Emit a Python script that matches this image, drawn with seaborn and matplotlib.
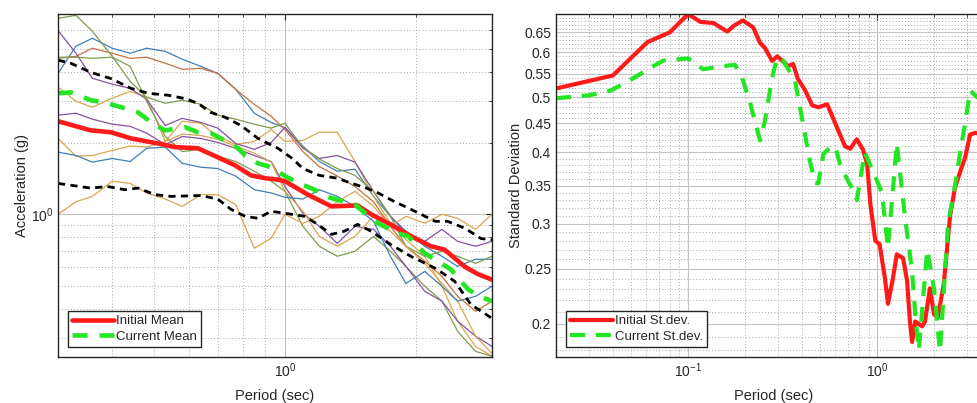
import matplotlib
matplotlib.use("Agg")
import matplotlib.pyplot as plt
import matplotlib.ticker as mticker
from matplotlib.lines import Line2D
import seaborn as sns

# ---------------- data: left panel (response spectra) ----------------
grid_periods = [0.30, 0.33, 0.36, 0.40, 0.44, 0.48, 0.53, 0.58, 0.64, 0.70, 0.77, 0.85, 0.93,
                1.0, 1.1, 1.2, 1.32, 1.45, 1.6, 1.75, 1.9, 2.1, 2.3, 2.5, 2.75, 3.0]

record_1 = [3.93, 5.12, 5.53, 5.02, 4.78, 5.02, 4.87, 4.51, 4.21, 3.93, 3.37, 2.67, 2.44,
            2.32, 1.94, 1.67, 1.52, 1.55, 1.19, 0.981, 0.848, 0.733, 0.665, 0.603, 0.646, 0.646]
record_2 = [4.55, 4.64, 5.02, 4.78, 4.55, 4.60, 4.34, 4.09, 4.13, 3.93, 3.37, 2.91, 2.59,
            2.28, 1.84, 1.59, 1.45, 1.31, 1.13, 0.890, 0.733, 0.634, 0.547, 0.451, 0.390, 0.430]
record_3 = [3.44, 3.00, 2.83, 3.09, 3.30, 3.12, 2.03, 2.47, 2.42, 2.13, 1.97, 2.03, 2.28,
            2.03, 2.05, 2.22, 2.22, 1.67, 1.19, 0.916, 0.784, 0.665, 0.497, 0.354, 0.277, 0.252]
record_4 = [5.97, 4.78, 3.75, 3.54, 3.40, 3.06, 2.37, 2.54, 2.44, 2.31, 1.99, 1.88, 2.01,
            2.33, 1.90, 1.72, 1.77, 1.66, 1.25, 0.981, 0.831, 0.769, 0.864, 0.769, 0.733, 0.769]
record_5 = [6.71, 6.91, 5.92, 4.64, 3.64, 3.12, 2.94, 3.03, 2.91, 2.62, 2.52, 2.40, 2.31,
            2.42, 1.92, 1.71, 1.56, 1.46, 1.25, 0.981, 0.733, 0.665, 0.698, 0.665, 0.621, 0.665]
record_6 = [4.60, 4.60, 4.55, 4.60, 4.21, 3.00, 2.13, 1.84, 1.88, 1.76, 1.67, 1.52, 1.38,
            1.25, 0.890, 0.733, 0.665, 0.698, 0.807, 0.698, 0.603, 0.497, 0.430, 0.321, 0.264, 0.252]
record_7 = [2.62, 2.67, 2.52, 2.40, 2.35, 2.20, 1.97, 2.13, 2.09, 2.01, 1.90, 1.77, 1.67,
            1.31, 1.01, 0.890, 0.754, 0.890, 0.864, 0.733, 0.603, 0.473, 0.430, 0.354, 0.306, 0.277]
record_8 = [2.09, 1.76, 1.77, 1.86, 1.94, 1.92, 2.03, 2.18, 2.15, 2.07, 1.94, 1.81, 1.66,
            1.25, 1.03, 0.807, 0.733, 0.807, 0.981, 0.848, 0.733, 0.621, 0.511, 0.430, 0.306, 0.259]
record_9 = [1.83, 1.77, 1.66, 1.72, 1.67, 1.90, 1.92, 1.64, 1.58, 1.56, 1.45, 1.27, 1.23,
            1.18, 1.16, 1.27, 1.19, 1.08, 0.934, 0.665, 0.511, 0.574, 0.497, 0.430, 0.451, 0.497]
record_10 = [1.00, 1.13, 1.19, 1.38, 1.35, 1.23, 1.16, 1.08, 1.21, 1.21, 1.10, 0.719, 0.792,
             1.00, 0.916, 0.981, 1.13, 1.25, 1.08, 0.890, 0.981, 0.916, 1.00, 0.962, 0.864, 1.00]
records = [record_1, record_2, record_3, record_4, record_5,
           record_6, record_7, record_8, record_9, record_10]
record_colors = ["#3f7fb8", "#c8703f", "#d9a64e", "#8752a0", "#7f9c4c",
                 "#7f9c4c", "#8752a0", "#d9a64e", "#3f7fb8", "#d9a64e"]

upper_periods = [0.30, 0.321, 0.357, 0.397, 0.442, 0.484, 0.538, 0.588, 0.63, 0.675, 0.727, 0.792,
                 0.867, 0.914, 0.963, 1.04, 1.10, 1.20, 1.32, 1.41, 1.54, 1.64, 1.79, 1.95, 2.22,
                 2.37, 2.6, 2.83, 3.0]
upper_values = [4.47, 4.34, 3.97, 3.74, 3.40, 3.24, 3.18, 3.08, 2.94, 2.69, 2.57, 2.37,
                2.09, 1.99, 1.90, 1.72, 1.56, 1.46, 1.42, 1.36, 1.29, 1.23, 1.13, 1.05, 0.934,
                0.934, 0.873, 0.79, 0.78]
lower_periods = [0.30, 0.357, 0.39, 0.428, 0.459, 0.502, 0.546, 0.64, 0.70, 0.751, 0.81, 0.867,
                 0.929, 1.0, 1.11, 1.19, 1.28, 1.37, 1.47, 1.58, 1.75, 1.95, 2.22, 2.46, 2.68, 3.0]
lower_values = [1.35, 1.29, 1.31, 1.27, 1.29, 1.21, 1.19, 1.20, 1.16, 1.05, 0.98, 0.962,
                1.03, 1.01, 0.98, 0.907, 0.823, 0.848, 0.907, 0.848, 0.747, 0.665, 0.592, 0.522,
                0.417, 0.364]
initial_mean_periods = [0.30, 0.357, 0.397, 0.442, 0.51, 0.558, 0.63, 0.70, 0.767, 0.835, 0.90,
                        0.963, 1.0, 1.13, 1.28, 1.47, 1.58, 1.75, 1.95, 2.17, 2.33, 2.6, 2.78, 3.0]
initial_mean = [2.47, 2.26, 2.22, 2.09, 1.99, 1.92, 1.90, 1.74, 1.61, 1.46, 1.42,
                1.40, 1.38, 1.21, 1.08, 1.09, 1.0, 0.907, 0.81, 0.733, 0.71, 0.60, 0.56, 0.53]
current_mean_periods = [0.30, 0.321, 0.357, 0.39, 0.428, 0.459, 0.491, 0.529, 0.588, 0.63, 0.675,
                        0.712, 0.78, 0.81, 0.867, 0.929, 1.0, 1.08, 1.17, 1.24, 1.37, 1.45, 1.58,
                        1.64, 1.82, 1.92, 2.1, 2.41, 2.64, 2.81, 3.0]
current_mean = [3.24, 3.27, 3.03, 2.94, 2.80, 2.69, 2.45, 2.26, 2.33, 2.22, 2.20,
                2.09, 1.90, 1.77, 1.64, 1.58, 1.45, 1.35, 1.27, 1.19, 1.13, 1.10, 0.96,
                0.916, 0.83, 0.81, 0.685, 0.586, 0.483, 0.45, 0.43]

# ---------------- data: right panel (standard deviation) ----------------
initial_sd_periods = [0.02, 0.04, 0.061, 0.08, 0.1, 0.116, 0.136, 0.161, 0.175, 0.195, 0.221, 0.24,
                      0.255, 0.278, 0.296, 0.338, 0.359, 0.38, 0.416, 0.453, 0.488, 0.544, 0.60,
                      0.676, 0.72, 0.78, 0.84, 0.885, 0.92, 0.977, 1.03, 1.10, 1.14, 1.21, 1.27,
                      1.37, 1.44, 1.49, 1.53, 1.59, 1.73, 1.79, 1.9, 2.0, 2.09, 2.25, 2.43, 2.58,
                      2.8, 2.92, 3.1, 3.3, 4.0]
initial_sd = [0.518, 0.546, 0.625, 0.65, 0.70, 0.678, 0.675, 0.652, 0.668, 0.682, 0.663, 0.623,
              0.61, 0.579, 0.59, 0.567, 0.572, 0.539, 0.514, 0.484, 0.48, 0.486, 0.45,
              0.41, 0.406, 0.422, 0.405, 0.382, 0.325, 0.28, 0.276, 0.24, 0.217, 0.24, 0.265,
              0.261, 0.238, 0.202, 0.186, 0.202, 0.198, 0.202, 0.231, 0.208, 0.205, 0.235, 0.31,
              0.347, 0.377, 0.392, 0.43, 0.433, 0.43]
current_sd_periods = [0.02, 0.03, 0.039, 0.049, 0.063, 0.074, 0.1, 0.12, 0.153, 0.177, 0.193,
                      0.213, 0.24, 0.255, 0.278, 0.296, 0.318, 0.368, 0.40, 0.44, 0.47, 0.488,
                      0.52, 0.565, 0.60, 0.635, 0.69, 0.76, 0.78, 0.86, 0.97, 1.06, 1.14, 1.27,
                      1.40, 1.53, 1.60, 1.66, 1.84, 2.0, 2.15, 2.37, 2.58, 2.78, 2.92, 3.1, 3.38, 4.0]
current_sd = [0.498, 0.504, 0.514, 0.535, 0.563, 0.58, 0.585, 0.56, 0.567, 0.57, 0.541,
              0.488, 0.42, 0.455, 0.541, 0.588, 0.58, 0.534, 0.46, 0.387, 0.354, 0.353,
              0.398, 0.408, 0.41, 0.382, 0.36, 0.34, 0.33, 0.40, 0.365, 0.34, 0.272, 0.415,
              0.31, 0.247, 0.202, 0.18, 0.27, 0.23, 0.179, 0.30, 0.35, 0.41, 0.45, 0.514, 0.50, 0.48]

sd_ticks = [0.2, 0.25, 0.3, 0.35, 0.4, 0.45, 0.5, 0.55, 0.6, 0.65]

# ---------------- styling ----------------
sns.set_theme(style="white")
plt.rcParams["font.family"] = ["Liberation Sans", "DejaVu Sans"]
plt.rcParams["mathtext.fontset"] = "custom"
plt.rcParams["mathtext.rm"] = "Liberation Sans"
plt.rcParams["mathtext.it"] = "Liberation Sans:italic"
plt.rcParams["mathtext.bf"] = "Liberation Sans:bold"

RED = "#ff1a1a"
GREEN = "#22e622"
W, H = 977, 403

fig = plt.figure(figsize=(W / 100, H / 100), dpi=100)
ax1 = fig.add_axes([58 / W, 46 / H, 434 / W, 343 / H])
ax2 = fig.add_axes([556 / W, 46 / H, 435 / W, 343 / H])


def style_axes(ax):
    ax.set_axisbelow(True)
    ax.grid(which="major", ls="-", color="#c4c4c4", lw=0.8)
    ax.grid(which="minor", ls=(0, (1, 2.2)), color="#a8a8a8", lw=0.7)
    ax.tick_params(which="both", direction="in", top=True, right=True,
                   colors="#262626", labelsize=10, labelcolor="#262626")
    ax.tick_params(which="major", length=4, width=0.8)
    ax.tick_params(which="minor", length=2.5, width=0.6)
    for s in ax.spines.values():
        s.set_color("#262626")
        s.set_linewidth(1.0)


# ----- left panel -----
ax1.set_xscale("log")
ax1.set_yscale("log")
for vals, c in zip(records, record_colors):
    sns.lineplot(x=grid_periods, y=vals, ax=ax1, color=c, lw=0.9,
                 estimator=None, sort=False, legend=False)
for per, vals in [(upper_periods, upper_values), (lower_periods, lower_values)]:
    sns.lineplot(x=per, y=vals, ax=ax1, color="black", lw=2.0, ls=(0, (2.6, 1.9)),
                 estimator=None, sort=False, legend=False)
sns.lineplot(x=initial_mean_periods, y=initial_mean, ax=ax1, color=RED, lw=3.3,
             estimator=None, sort=False, legend=False)
sns.lineplot(x=current_mean_periods, y=current_mean, ax=ax1, color=GREEN, lw=3.3,
             ls=(0, (3.3, 2.6)), estimator=None, sort=False, legend=False)

ax1.set_xlim(0.3, 3)
ax1.set_ylim(0.25, 7)
ax1.xaxis.set_major_locator(mticker.LogLocator(base=10, numticks=10))
ax1.yaxis.set_major_locator(mticker.LogLocator(base=10, numticks=10))
ax1.xaxis.set_minor_locator(mticker.LogLocator(base=10, subs=range(2, 10), numticks=20))
ax1.yaxis.set_minor_locator(mticker.LogLocator(base=10, subs=range(2, 10), numticks=20))
ax1.xaxis.set_major_formatter(mticker.LogFormatterSciNotation())
ax1.yaxis.set_major_formatter(mticker.LogFormatterSciNotation())
ax1.xaxis.set_minor_formatter(mticker.NullFormatter())
ax1.yaxis.set_minor_formatter(mticker.NullFormatter())
style_axes(ax1)
ax1.set_xlabel("Period (sec)", fontsize=10.5, color="#262626", labelpad=6)
ax1.set_ylabel("Acceleration (g)", fontsize=10.5, color="#262626", labelpad=1)

h1 = [Line2D([], [], color=RED, lw=3.3),
      Line2D([], [], color=GREEN, lw=3.3, ls=(0, (3.3, 2.6)))]
leg1 = ax1.legend(h1, ["Initial Mean", "Current Mean"], loc="lower left",
                  bbox_to_anchor=(0.022, 0.03), fontsize=9.5, frameon=True, fancybox=False,
                  framealpha=1, edgecolor="#262626", handlelength=3.2, handletextpad=0.2,
                  borderpad=0.3, labelspacing=0.25, borderaxespad=0)
leg1.get_frame().set_linewidth(1.0)

# ----- right panel -----
ax2.set_xscale("log")
ax2.set_yscale("log")
sns.lineplot(x=initial_sd_periods, y=initial_sd, ax=ax2, color=RED, lw=3.0,
             estimator=None, sort=False, legend=False)
sns.lineplot(x=current_sd_periods, y=current_sd, ax=ax2, color=GREEN, lw=3.0,
             ls=(0, (3.6, 2.6)), estimator=None, sort=False, legend=False)
ax2.set_xlim(0.02, 4)
ax2.set_ylim(0.175, 0.70)
ax2.xaxis.set_major_locator(mticker.LogLocator(base=10, numticks=10))
ax2.xaxis.set_minor_locator(mticker.LogLocator(base=10, subs=range(2, 10), numticks=20))
ax2.xaxis.set_major_formatter(mticker.LogFormatterSciNotation())
ax2.xaxis.set_minor_formatter(mticker.NullFormatter())
ax2.yaxis.set_major_locator(mticker.FixedLocator(sd_ticks))
ax2.yaxis.set_major_formatter(mticker.FuncFormatter(lambda v, p: f"{v:g}"))
ax2.yaxis.set_minor_locator(mticker.FixedLocator([k / 100 for k in range(18, 71)
                                                  if k % 5 != 0]))
ax2.yaxis.set_minor_formatter(mticker.NullFormatter())
style_axes(ax2)
ax2.set_xlabel("Period (sec)", fontsize=10.5, color="#262626", labelpad=6)
ax2.set_ylabel("Standard Deviation", fontsize=10.5, color="#262626", labelpad=1)

h2 = [Line2D([], [], color=RED, lw=3.0),
      Line2D([], [], color=GREEN, lw=3.0, ls=(0, (3.6, 2.6)))]
leg2 = ax2.legend(h2, ["Initial St.dev.", "Current St.dev."], loc="lower left",
                  bbox_to_anchor=(0.024, 0.03), fontsize=9.5, frameon=True, fancybox=False,
                  framealpha=1, edgecolor="#262626", handlelength=3.2, handletextpad=0.2,
                  borderpad=0.3, labelspacing=0.25, borderaxespad=0)
leg2.get_frame().set_linewidth(1.0)

fig.savefig("out.png", dpi=100, facecolor="white")
